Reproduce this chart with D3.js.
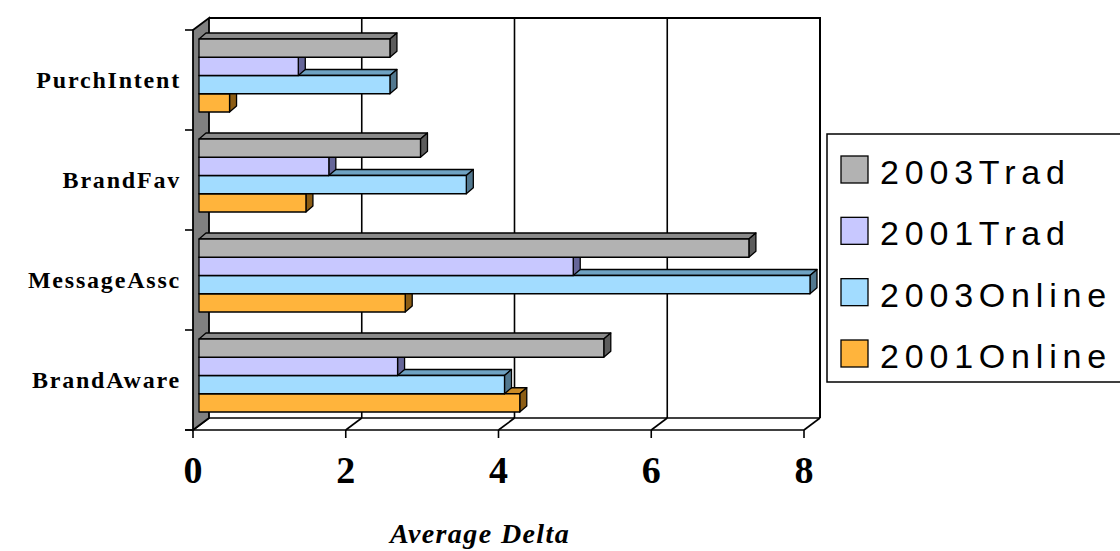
<!DOCTYPE html>
<html>
<head>
<meta charset="utf-8">
<script src="https://cdn.jsdelivr.net/npm/d3@7/dist/d3.min.js"></script>
<style>
  html, body { margin: 0; padding: 0; background: #fff; }
  svg { display: block; }
</style>
</head>
<body>
<svg id="chart" width="1120" height="551"></svg>
<script>
// Categories, listed top to bottom as drawn
const categories = ["PurchIntent", "BrandFav", "MessageAssc", "BrandAware"];
// Series, listed top to bottom within each category group
const seriesNames = ["2003Trad", "2001Trad", "2003Online", "2001Online"];
const values2003Trad   = [2.5, 2.9, 7.2, 5.3];
const values2001Trad   = [1.3, 1.7, 4.9, 2.6];
const values2003Online = [2.5, 3.5, 8.0, 4.0];
const values2001Online = [0.4, 1.4, 2.7, 4.2];
const xTicks = [0, 2, 4, 6, 8];
const axisTitle = "Average Delta";

const seriesValues = [values2003Trad, values2001Trad, values2003Online, values2001Online];
const palette = [
  { face: "#b2b2b2", top: "#8a8a8a", side: "#5c5c5c" },
  { face: "#c8c8ff", top: "#9c9ccc", side: "#666699" },
  { face: "#a2dcff", top: "#6fa2c2", side: "#52788f" },
  { face: "#ffb43c", top: "#c98a26", side: "#8c5d14" }
];

const svg = d3.select("#chart");

// Front plane of the 3D box and the depth offset to its back wall
const xFront = d3.scaleLinear().domain([0, 8]).range([193, 804]);
const frontTop = 30, frontBottom = 430;
const depthX = 16, depthY = -12;

// Bar faces sit part way into the box; bars have their own small depth
const faceDX = 6, faceDY = -4.5;
const barDX = 7, barDY = -6;
const xFace = d3.scaleLinear().domain([0, 8]).range([193 + faceDX, 804 + faceDX]);

const yCat = d3.scaleBand()
  .domain(categories)
  .range([frontTop + faceDY, frontBottom + faceDY])
  .paddingInner(0.27)
  .paddingOuter(0.135);
const ySer = d3.scaleBand()
  .domain(seriesNames)
  .range([0, yCat.bandwidth()]);

const yFrontCat = d3.scaleBand().domain(categories).range([frontTop, frontBottom]);

const xMax = xFront.domain()[1];
const backLeft = xFront(0) + depthX, backRight = xFront(xMax) + depthX;
const backTop = frontTop + depthY, backBottom = frontBottom + depthY;

const frame = svg.append("g").attr("stroke", "#000").attr("fill", "none");

// back wall
frame.append("rect")
  .attr("x", backLeft).attr("y", backTop)
  .attr("width", backRight - backLeft).attr("height", backBottom - backTop)
  .attr("fill", "#fff").attr("stroke", "none");

// back wall gridlines and floor lines for each tick
xTicks.forEach(t => {
  const xb = xFront(t) + depthX;
  if (t > 0 && t < xMax) {
    frame.append("line")
      .attr("x1", xb).attr("x2", xb).attr("y1", backTop).attr("y2", backBottom)
      .attr("stroke-width", 1.6);
  }
  frame.append("line")
    .attr("x1", xb).attr("y1", backBottom)
    .attr("x2", xFront(t)).attr("y2", frontBottom)
    .attr("stroke-width", 1.6);
  // tick below the front edge
  frame.append("line")
    .attr("x1", xFront(t)).attr("x2", xFront(t))
    .attr("y1", frontBottom).attr("y2", frontBottom + 8)
    .attr("stroke-width", 1.6);
});

// back wall outline (top and right)
frame.append("path")
  .attr("d", `M${backLeft},${backTop}H${backRight}V${backBottom}`)
  .attr("stroke-width", 2);
// floor: back and front edges
frame.append("line")
  .attr("x1", backLeft).attr("x2", backRight).attr("y1", backBottom).attr("y2", backBottom)
  .attr("stroke-width", 1.6);
frame.append("line")
  .attr("x1", xFront(0) - 8).attr("x2", xFront(xMax)).attr("y1", frontBottom).attr("y2", frontBottom)
  .attr("stroke-width", 1.6);

// left side wall
frame.append("path")
  .attr("d", `M${xFront(0)},${frontTop}L${backLeft},${backTop}L${backLeft},${backBottom}L${xFront(0)},${frontBottom}Z`)
  .attr("fill", "#808080").attr("stroke-width", 1.8);

// category ticks on the left
const catTicks = categories.map(c => yFrontCat(c)).concat([frontBottom]);
catTicks.forEach(y => {
  frame.append("line")
    .attr("x1", xFront(0) - 8).attr("x2", xFront(0))
    .attr("y1", y).attr("y2", y)
    .attr("stroke-width", 1.6);
});

// bars: lower rows first so upper bars cover the top faces below them
const bars = svg.append("g").attr("stroke", "#000").attr("stroke-width", 1.3).attr("stroke-linejoin", "round");
categories.forEach((cat, ci) => {
  for (let si = seriesNames.length - 1; si >= 0; si--) {
    const v = seriesValues[si][ci];
    const x0 = xFace(0), x1 = xFace(v);
    const y0 = yCat(cat) + ySer(seriesNames[si]);
    const y1 = y0 + ySer.bandwidth();
    const col = palette[si];
    const g = bars.append("g");
    // top face
    g.append("path")
      .attr("d", `M${x0},${y0}L${x0 + barDX},${y0 + barDY}L${x1 + barDX},${y0 + barDY}L${x1},${y0}Z`)
      .attr("fill", col.top);
    // end face
    g.append("path")
      .attr("d", `M${x1},${y0}L${x1 + barDX},${y0 + barDY}L${x1 + barDX},${y1 + barDY}L${x1},${y1}Z`)
      .attr("fill", col.side);
    // front face
    g.append("rect")
      .attr("x", x0).attr("y", y0)
      .attr("width", x1 - x0).attr("height", y1 - y0)
      .attr("fill", col.face);
  }
});

// category labels
svg.append("g").selectAll("text")
  .data(categories)
  .join("text")
  .attr("x", 181)
  .attr("y", d => yFrontCat(d) + yFrontCat.bandwidth() / 2)
  .attr("dy", "0.35em")
  .attr("text-anchor", "end")
  .attr("font-family", "'Liberation Serif', 'Times New Roman', serif")
  .attr("font-weight", "bold")
  .attr("font-size", 24)
  .attr("letter-spacing", 1.8)
  .text(d => d);

// value axis tick labels
svg.append("g").selectAll("text")
  .data(xTicks)
  .join("text")
  .attr("x", d => xFront(d))
  .attr("y", 483)
  .attr("text-anchor", "middle")
  .attr("font-family", "'Liberation Serif', 'Times New Roman', serif")
  .attr("font-weight", "bold")
  .attr("font-size", 38)
  .text(d => d);

// value axis title
svg.append("text")
  .attr("x", 480)
  .attr("y", 543)
  .attr("text-anchor", "middle")
  .attr("font-family", "'Liberation Serif', 'Times New Roman', serif")
  .attr("font-weight", "bold")
  .attr("font-style", "italic")
  .attr("font-size", 28)
  .attr("letter-spacing", 1.4)
  .text(axisTitle);

// legend
const legend = svg.append("g");
legend.append("rect")
  .attr("x", 827).attr("y", 134).attr("width", 320).attr("height", 248)
  .attr("fill", "#fff").attr("stroke", "#000").attr("stroke-width", 1.5);
const legY = d3.scalePoint().domain(seriesNames).range([156, 340]);
const items = legend.selectAll("g.item").data(seriesNames).join("g").attr("class", "item");
items.append("rect")
  .attr("x", 841).attr("y", d => legY(d))
  .attr("width", 27).attr("height", 27)
  .attr("fill", (d, i) => palette[i].face)
  .attr("stroke", "#000").attr("stroke-width", 1.3);
items.append("text")
  .attr("x", 880).attr("y", d => legY(d) + 28)
  .attr("font-family", "'Liberation Sans', Arial, sans-serif")
  .attr("font-size", 34)
  .attr("letter-spacing", 5.8)
  .text(d => d);
</script>
</body>
</html>
